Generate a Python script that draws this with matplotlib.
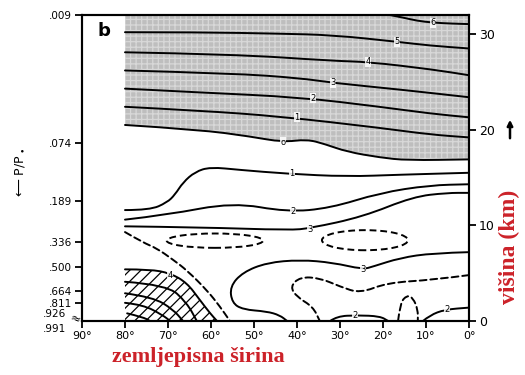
import matplotlib.pyplot as plt
from matplotlib.path import Path
from matplotlib.patches import PathPatch, Ellipse

# contour lines, latitude (deg) and height (km)
c6_lat = [18.4, 15, 12.1, 8.4, 4, 0]
c6_km = [32.0, 31.7, 31.4, 31.2, 31.1, 31.05]
c5_lat = [80, 62.6, 44, 31.6, 16.7, 9.1, 0]
c5_km = [30.2, 30.2, 30.05, 29.9, 29.2, 28.8, 28.5]
c4_lat = [80, 54.9, 31.6, 23.5, 8.4, 0]
c4_km = [28.1, 27.9, 27.2, 27.1, 26.3, 25.7]
c3_lat = [80, 54.9, 39.3, 31.6, 16, 0]
c3_km = [26.2, 25.9, 25.4, 24.9, 24.2, 23.4]
c2_lat = [80, 62.6, 39.3, 20.7, 9.1, 0]
c2_km = [24.3, 23.9, 23.4, 22.4, 21.7, 21.3]
c1_lat = [80, 62.6, 44, 20.7, 9.1, 0]
c1_km = [22.4, 22.0, 21.4, 20.2, 19.5, 19.2]
c0_lat = [80, 62.6, 50.9, 43.3, 37.7, 33.5, 28.4, 20.7, 14.4, 0]
c0_km = [20.5, 20.0, 19.3, 18.7, 19.0, 18.5, 17.7, 17.1, 16.8, 16.9]

t1_lat = [80, 74.2, 70.2, 68.4, 66.5, 63.7, 60.2, 53.3, 42.3, 28.4, 16, 0]
t1_km = [11.6, 11.6, 12.4, 13.2, 14.5, 15.6, 16.1, 15.8, 15.4, 15.1, 15.3, 15.5]
t2_lat = [80, 70.2, 54.9, 42.3, 32.3, 20.7, 9.1, 0]
t2_km = [10.6, 11.1, 12.4, 11.4, 11.8, 13.4, 14.2, 14.3]
t3_lat = [80, 62.6, 41.6, 37, 24.7, 13, 5.1, 0]
t3_km = [9.9, 9.8, 9.5, 9.7, 10.9, 13.0, 13.4, 13.4]

d1_lat = [80, 75.8, 72.6, 68.8, 65.6, 60.9, 57.9, 55.6]
d1_km = [9.3, 8.2, 7.6, 6.4, 5.3, 3.2, 1.5, 0]

s3_lat = [0, 8.4, 16, 22.3, 24.7, 31.6, 39.3, 47, 52.6, 55.6, 55.1, 52.6, 47, 44, 42.3]
s3_km = [7.2, 7.1, 6.6, 5.7, 5.4, 6.1, 6.4, 6.1, 5.1, 3.6, 1.9, 1.2, 1.0, 0.6, 0]
d2_lat = [0, 8.4, 19.1, 25.3, 30, 34.7, 39.3, 41.6, 40, 36.3, 34.7]
d2_km = [4.8, 4.3, 4.0, 2.9, 3.6, 4.5, 4.6, 3.6, 2.5, 1.5, 0]
s2a_lat = [32.3, 30.7, 26, 20.7, 18.8]
s2a_km = [0, 0.5, 0.6, 0.5, 0]
d3_lat = [16.5, 16, 14.4, 13, 11.9, 11.9]
d3_km = [0, 1.9, 2.7, 2.4, 1.2, 0]
s2b_lat = [10.7, 9.1, 5.6, 0]
s2b_km = [0, 0.6, 1.2, 1.4]

# dashed closed cells: centre lat, centre km, width (deg), height (km)
cells = [(59.1, 8.4, 22.4, 1.5), (24.2, 8.45, 20.0, 2.1)]

# hatched polar region
h_lat = [80, 74.2, 69.5, 65.6, 62.6, 60.2, 58.6]
h_km = [5.4, 5.4, 5.0, 4.0, 2.2, 0.8, 0]
arcs = [
    ([80, 70.2, 65.6, 63.3], [4.1, 3.8, 1.9, 0]),
    ([80, 73.5, 68.8, 66.5], [2.9, 2.5, 1.2, 0]),
    ([80, 75.8, 71.2, 69.5], [1.9, 1.7, 0.6, 0]),
    ([79.5, 75.8, 74.2], [0.8, 0.4, 0]),
]

# contour labels: text, lat, km
labels = [('6', 8.4, 31.2), ('5', 16.7, 29.2), ('4', 23.5, 27.1), ('3', 31.6, 24.9),
          ('2', 36.3, 23.3), ('1', 40, 21.3), ('o', 43.3, 18.7),
          ('1', 41.2, 15.4), ('2', 40.9, 11.4), ('3', 37, 9.6),
          ('3', 24.7, 5.4), ('2', 26.5, 0.55), ('2', 5.1, 1.2), ('4', 69.5, 4.8)]

p_labels = ['.009', '.074', '.189', '.336', '.500', '.664', '.811']
p_km = [32.0, 18.6, 12.6, 8.3, 5.65, 3.14, 1.88]
p_low_labels = ['.926', '.991']
p_low_km = [0.72, -0.8]
lat_ticks = [90, 80, 70, 60, 50, 40, 30, 20, 10, 0]
km_ticks = [0, 10, 20, 30]

TOP = 32.0
red = '#cc2229'


def smooth(lat, km):
    verts = [(lat[0], km[0])]
    codes = [Path.MOVETO]
    for i in range(1, len(lat) - 1):
        verts += [(lat[i], km[i]), ((lat[i] + lat[i + 1]) / 2, (km[i] + km[i + 1]) / 2)]
        codes += [Path.CURVE3, Path.CURVE3]
    verts.append((lat[-1], km[-1]))
    codes.append(Path.LINETO)
    return verts, codes


def line(ax, lat, km, ls='-'):
    v, c = smooth(lat, km)
    ax.add_patch(PathPatch(Path(v, c), fill=False, lw=1.4, ls=ls, ec='black',
                           zorder=3, capstyle='round'))


plt.rcParams['hatch.linewidth'] = 0.9
fig = plt.figure(figsize=(5.25, 3.75), dpi=100)
ax = fig.add_axes([82 / 525, 54 / 375, 387 / 525, 306 / 375])
ax.set_xlim(90, 0)
ax.set_ylim(0, TOP)

# stippled stratosphere above the 0 line
v, c = smooth(c0_lat, c0_km)
v = v + [(0, TOP), (80, TOP), (80, c0_km[0])]
c = c + [Path.LINETO, Path.LINETO, Path.CLOSEPOLY]
ax.add_patch(PathPatch(Path(v, c), fc='#bebebe', ec='#d8d8d8', hatch='+++', lw=0, zorder=1))

# hatched polar surface region
v, c = smooth(h_lat, h_km)
v = v + [(80, 0), (80, 0)]
c = c + [Path.LINETO, Path.CLOSEPOLY]
ax.add_patch(PathPatch(Path(v, c), fc='white', ec='black', hatch='///', lw=0, zorder=1))

for la, k in [(c6_lat, c6_km), (c5_lat, c5_km), (c4_lat, c4_km), (c3_lat, c3_km),
              (c2_lat, c2_km), (c1_lat, c1_km), (c0_lat, c0_km),
              (t1_lat, t1_km), (t2_lat, t2_km), (t3_lat, t3_km),
              (s3_lat, s3_km), (s2a_lat, s2a_km), (s2b_lat, s2b_km), (h_lat, h_km)]:
    line(ax, la, k)
for la, k in arcs:
    line(ax, la, k)
for la, k in [(d1_lat, d1_km), (d2_lat, d2_km), (d3_lat, d3_km)]:
    line(ax, la, k, ls=(0, (3.5, 2)))
for lat0, km0, w, h in cells:
    ax.add_patch(Ellipse((lat0, km0), w, h, fill=False, lw=1.4, ls=(0, (3.5, 2)),
                         ec='black', zorder=3))

for t, la, k in labels:
    ax.text(la, k, t, fontsize=6, ha='center', va='center', zorder=4,
            bbox=dict(fc='white', ec='none', pad=0.4, alpha=0.85))

ax.text(0.04, 0.93, 'b', transform=ax.transAxes, fontsize=13, fontweight='bold')

for s in ax.spines.values():
    s.set_linewidth(1.5)
ax.set_xticks(lat_ticks)
ax.set_xticklabels([f'{t}°' for t in lat_ticks])
ax.set_yticks(p_km)
ax.set_yticklabels(p_labels)
ax.tick_params(direction='out', length=5, width=1.3, labelsize=8, pad=2)
ax.tick_params(axis='y', labelsize=7.5)

ax2 = ax.twinx()
ax2.set_ylim(0, TOP)
ax2.set_yticks(km_ticks)
ax2.tick_params(direction='out', length=5, width=1.3, labelsize=9, pad=2)
for s in ax2.spines.values():
    s.set_linewidth(1.5)

# the two lowest pressure labels sit around the broken axis end
for t, k in zip(p_low_labels, p_low_km):
    ax.text(-0.04, k, t, transform=ax.get_yaxis_transform(), fontsize=7.5,
            ha='right', va='center', clip_on=False)
ax.text(-0.017, 0.15, '≈', transform=ax.get_yaxis_transform(), fontsize=9,
        ha='center', va='center', rotation=-20, clip_on=False)

fig.text(20 / 525, 1 - 172 / 375, '⟵ P/P$_\\bullet$', rotation=90, fontsize=9,
         ha='center', va='center')
ax.annotate('', xy=(510 / 525, 1 - 117 / 375), xytext=(510 / 525, 1 - 141 / 375),
            xycoords='figure fraction', textcoords='figure fraction',
            arrowprops=dict(arrowstyle='-|>', lw=1.8, color='black', mutation_scale=8))

fig.text(112 / 525, 1 - 357 / 375, 'zemljepisna širina', color=red, fontsize=16,
         fontweight='bold', family='Liberation Serif', ha='left', va='center')
fig.text(509 / 525, 1 - 247 / 375, 'višina (km)', color=red, fontsize=17,
         fontweight='bold', family='Liberation Serif', rotation=90,
         ha='center', va='center')

fig.savefig('out.png', dpi=100)
